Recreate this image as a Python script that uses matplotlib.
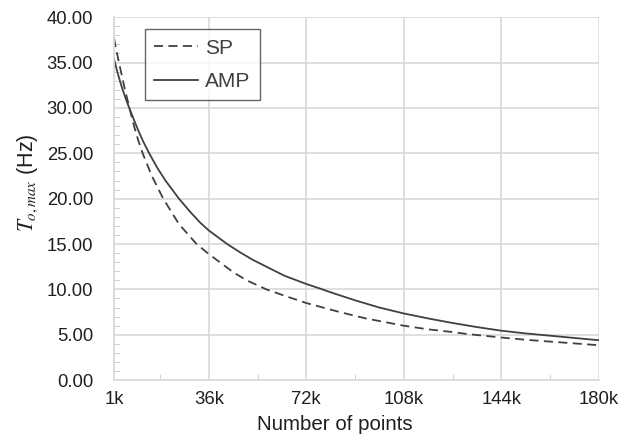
import numpy as np
import matplotlib
matplotlib.use("Agg")
import matplotlib.pyplot as plt
from matplotlib.ticker import MultipleLocator, FormatStrFormatter

# number of points (thousands)
x_sp = [1, 2, 3, 5, 6.9, 8.5, 10, 11.6, 15, 19.2, 25, 31.5, 36, 45, 50, 57.3, 64, 72,
        84.4, 94, 108, 117, 126, 131, 144, 153, 162, 171, 180]
sp = [37.7, 36.2, 34.8, 32.1, 29.8, 27.9, 26.4, 25.0, 22.5, 20.0, 17.2, 15.0, 13.9, 11.9, 11.0, 10.0, 9.3, 8.5,
      7.5, 6.8, 6.0, 5.6, 5.3, 5.1, 4.7, 4.45, 4.25, 4.05, 3.85]

x_amp = [1, 2.5, 4, 5.5, 6.9, 8.5, 10, 11.8, 14, 17, 20, 25, 29, 32.7, 36, 42.8, 47.5, 52, 57.3,
         64, 72, 78, 81.8, 90, 99, 108, 117, 126, 135, 144, 153, 162, 171, 180]
amp = [35.4, 33.7, 32.2, 30.9, 29.8, 28.6, 27.5, 26.3, 25.0, 23.4, 22.0, 20.0, 18.6, 17.4, 16.5, 15.0, 14.1, 13.3, 12.5,
       11.5, 10.6, 10.0, 9.6, 8.8, 8.0, 7.35, 6.8, 6.3, 5.85, 5.45, 5.15, 4.9, 4.65, 4.4]

xticks = [1, 36, 72, 108, 144, 180]
xtick_labels = ["1k", "36k", "72k", "108k", "144k", "180k"]

plt.rcParams['font.family'] = ['Liberation Sans', 'DejaVu Sans']
plt.rcParams['mathtext.fontset'] = 'stix'

fig = plt.figure(figsize=(6.33, 4.40), dpi=100)
ax = fig.add_axes([0.180, 0.136, 0.766, 0.825])

line_col = '#404040'
ax.plot(x_sp, sp, color=line_col, linestyle=(0, (5, 3)), linewidth=1.3, label='SP')
ax.plot(x_amp, amp, color=line_col, linestyle='-', linewidth=1.3, label='AMP')

ax.set_xlim(1, 180)
ax.set_ylim(0, 40)
ax.set_xticks(xticks)
ax.set_xticklabels(xtick_labels)
ax.xaxis.set_minor_locator(MultipleLocator(18))
ax.yaxis.set_major_locator(MultipleLocator(5))
ax.yaxis.set_minor_locator(MultipleLocator(1))
ax.yaxis.set_major_formatter(FormatStrFormatter('%.2f'))

ax.grid(True, which='major', color='#d9d9d9', linewidth=1.2)
ax.set_axisbelow(True)
for s in ['top', 'right']:
    ax.spines[s].set_visible(False)
for s in ['left', 'bottom']:
    ax.spines[s].set_color('#d9d9d9')
    ax.spines[s].set_linewidth(1.2)

ax.tick_params(axis='both', which='major', length=0, labelsize=13.3, labelcolor='#1f1f1f')
ax.tick_params(axis='y', which='major', pad=15)
ax.tick_params(axis='x', which='major', pad=8)
ax.tick_params(axis='both', which='minor', direction='in', length=4, color='#c8c8c8')

ax.set_xlabel('Number of points', fontsize=14.8, color='#1f1f1f')
ax.xaxis.set_label_coords(0.456, -0.097)
ax.set_ylabel(r'$T_{o,max}$ (Hz)', fontsize=15.5, color='#1f1f1f')
ax.yaxis.set_label_coords(-0.152, 0.545)

leg = ax.legend(loc='upper left', bbox_to_anchor=(0.064, 0.967), borderaxespad=0, fontsize=15,
                frameon=True, fancybox=False, edgecolor='#404040',
                handlelength=2.1, borderpad=0.45, labelspacing=0.7, handletextpad=0.35)
leg.get_frame().set_linewidth(1.0)
for t in leg.get_texts():
    t.set_color('#404040')

fig.savefig('out.png', dpi=100)
